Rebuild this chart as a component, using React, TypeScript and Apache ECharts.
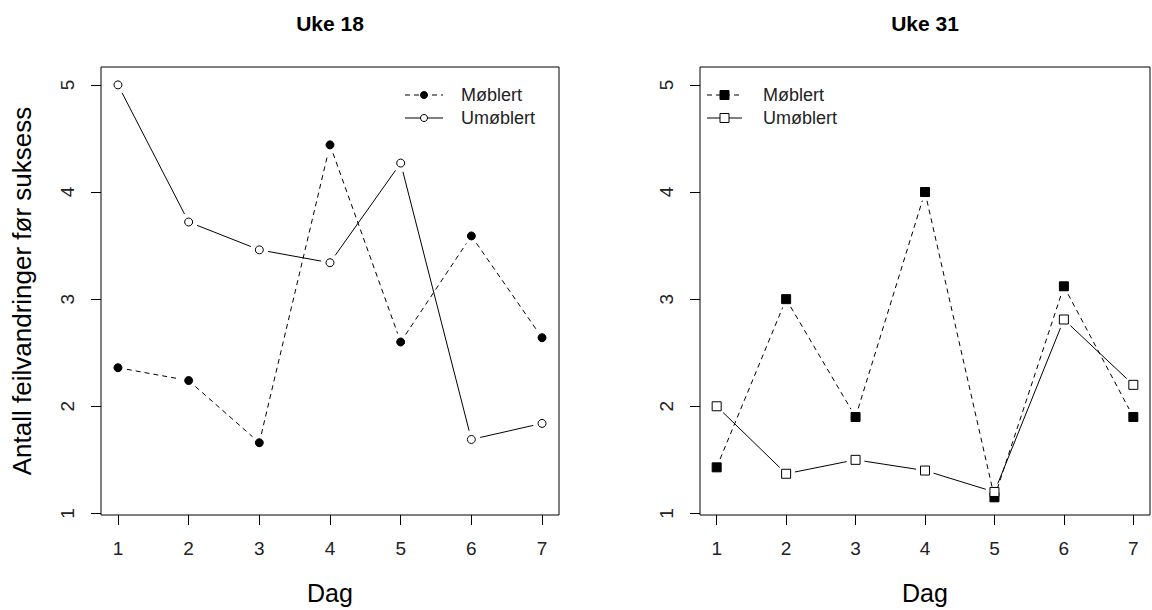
import React, { useEffect, useRef } from "react";
import * as echarts from "echarts";

const days = [1, 2, 3, 4, 5, 6, 7];
const xTicks = [1, 2, 3, 4, 5, 6, 7];
const yTicks = [1, 2, 3, 4, 5];
const panelTitles = ["Uke 18", "Uke 31"];
const seriesNames = ["Møblert", "Umøblert"];
const uke18Moblert = [2.36, 2.24, 1.66, 4.44, 2.6, 3.59, 2.64];
const uke18Umoblert = [5.0, 3.72, 3.46, 3.34, 4.27, 1.69, 1.84];
const uke31Moblert = [1.43, 3.0, 1.9, 4.0, 1.15, 3.12, 1.9];
const uke31Umoblert = [2.0, 1.37, 1.5, 1.4, 1.2, 2.81, 2.2];
const yTitle = "Antall feilvandringer før suksess";
const xTitle = "Dag";

const FONT = "'Liberation Sans', Arial, Helvetica, sans-serif";
const DASH = [5, 4];
const GAP = 9;

function pairs(vals: number[]) {
  return days.map((d, i) => [d, vals[i]]);
}

function segments(vals: number[]) {
  return vals.slice(0, -1).map((v, i) => [days[i], v, days[i + 1], vals[i + 1]]);
}

function seriesFor(
  gi: number,
  name: string,
  vals: number[],
  dashed: boolean,
  symbol: string,
  filled: boolean
) {
  const size = symbol === "circle" ? 8 : 9;
  return [
    {
      type: "custom",
      name: name + " linje",
      xAxisIndex: gi,
      yAxisIndex: gi,
      data: segments(vals),
      z: 2,
      silent: true,
      encode: { x: [0, 2], y: [1, 3] },
      renderItem: (params: any, api: any) => {
        const a = api.coord([api.value(0), api.value(1)]);
        const b = api.coord([api.value(2), api.value(3)]);
        const dx = b[0] - a[0];
        const dy = b[1] - a[1];
        const len = Math.sqrt(dx * dx + dy * dy);
        if (len <= 2 * GAP) return null;
        const ux = dx / len;
        const uy = dy / len;
        return {
          type: "line",
          shape: {
            x1: a[0] + ux * GAP,
            y1: a[1] + uy * GAP,
            x2: b[0] - ux * GAP,
            y2: b[1] - uy * GAP,
          },
          style: {
            stroke: "#000",
            lineWidth: 1,
            lineDash: dashed ? DASH : null,
            fill: null,
          },
        };
      },
    },
    {
      type: "scatter",
      name,
      xAxisIndex: gi,
      yAxisIndex: gi,
      data: pairs(vals),
      symbol: symbol === "circle" ? "circle" : "rect",
      symbolSize: size,
      z: 4,
      itemStyle: {
        color: filled ? "#000" : "#fff",
        borderColor: "#000",
        borderWidth: 1,
        opacity: 1,
      },
    },
  ];
}

function legendGraphic(
  x0: number,
  x1: number,
  tx: number,
  y0: number,
  y1: number,
  symbol: string
) {
  const xm = (x0 + x1) / 2;
  const els: any[] = [];
  const rows = [
    { y: y0, dashed: true, filled: true, label: seriesNames[0] },
    { y: y1, dashed: false, filled: false, label: seriesNames[1] },
  ];
  rows.forEach((r) => {
    els.push({
      type: "line",
      shape: { x1: x0, y1: r.y, x2: x1, y2: r.y },
      style: { stroke: "#000", lineWidth: 1, lineDash: r.dashed ? DASH : null },
      z: 10,
    });
    if (symbol === "circle") {
      els.push({
        type: "circle",
        shape: { cx: xm, cy: r.y, r: 3.5 },
        style: { fill: r.filled ? "#000" : "#fff", stroke: "#000", lineWidth: 1 },
        z: 11,
      });
    } else {
      els.push({
        type: "rect",
        shape: { x: xm - 4.5, y: r.y - 4.5, width: 9, height: 9 },
        style: { fill: r.filled ? "#000" : "#fff", stroke: "#000", lineWidth: 1 },
        z: 11,
      });
    }
    els.push({
      type: "text",
      x: tx,
      y: r.y,
      style: {
        text: r.label,
        fill: "#222",
        font: `18px ${FONT}`,
        textVerticalAlign: "middle",
        textAlign: "left",
      },
      z: 11,
    });
  });
  return els;
}

export default function App() {
  const ref = useRef<HTMLDivElement>(null);
  useEffect(() => {
    if (!ref.current) return;
    const chart = echarts.init(ref.current, undefined, { renderer: "svg" });
    const grids = [
      { left: 101, top: 67, width: 458, height: 450 },
      { left: 700, top: 67, width: 450, height: 450 },
    ];
    const xAxisBase = (gi: number) => ({
      type: "value",
      gridIndex: gi,
      min: 0.76,
      max: 7.24,
      axisLine: { show: false },
      splitLine: { show: false },
      axisTick: {
        show: true,
        customValues: xTicks,
        length: 10,
        lineStyle: { color: "#000", width: 1 },
      },
      axisLabel: {
        customValues: xTicks,
        margin: 24,
        fontSize: 19,
        color: "#222",
        fontFamily: FONT,
      },
      name: xTitle,
      nameLocation: "middle",
      nameGap: 65,
      nameTextStyle: { fontSize: 25, color: "#000", fontFamily: FONT },
    });
    const yAxisBase = (gi: number) => ({
      type: "value",
      gridIndex: gi,
      min: 0.985,
      max: 5.167,
      axisLine: { show: false },
      splitLine: { show: false },
      axisTick: {
        show: true,
        customValues: yTicks,
        length: 10,
        lineStyle: { color: "#000", width: 1 },
      },
      axisLabel: {
        customValues: yTicks,
        rotate: 90,
        margin: 24,
        fontSize: 19,
        color: "#222",
        fontFamily: FONT,
      },
      ...(gi === 0
        ? {
            name: yTitle,
            nameLocation: "middle",
            nameGap: 66,
            nameRotate: 90,
            nameTextStyle: { fontSize: 26, color: "#000", fontFamily: FONT },
          }
        : {}),
    });

    const graphic: any[] = [];
    panelTitles.forEach((t, i) => {
      const g = grids[i];
      graphic.push({
        type: "text",
        x: g.left + g.width / 2,
        y: 23,
        style: {
          text: t,
          fill: "#000",
          font: `bold 21px ${FONT}`,
          textAlign: "center",
          textVerticalAlign: "middle",
        },
      });
    });
    graphic.push(...legendGraphic(405, 443, 461, 95, 118, "circle"));
    graphic.push(...legendGraphic(707, 742, 763, 95, 118, "rect"));

    chart.setOption({
      animation: false,
      backgroundColor: "#fff",
      grid: grids.map((g) => ({
        ...g,
        show: true,
        borderColor: "#000",
        borderWidth: 1,
        backgroundColor: "transparent",
        containLabel: false,
      })),
      xAxis: [xAxisBase(0), xAxisBase(1)],
      yAxis: [yAxisBase(0), yAxisBase(1)],
      series: [
        ...seriesFor(0, seriesNames[0], uke18Moblert, true, "circle", true),
        ...seriesFor(0, seriesNames[1], uke18Umoblert, false, "circle", false),
        ...seriesFor(1, seriesNames[0], uke31Moblert, true, "rect", true),
        ...seriesFor(1, seriesNames[1], uke31Umoblert, false, "rect", false),
      ],
      graphic,
    });
    return () => chart.dispose();
  }, []);
  return (
    <div
      ref={ref}
      style={{ position: "absolute", left: 0, top: 0, width: 1152, height: 610 }}
    />
  );
}
